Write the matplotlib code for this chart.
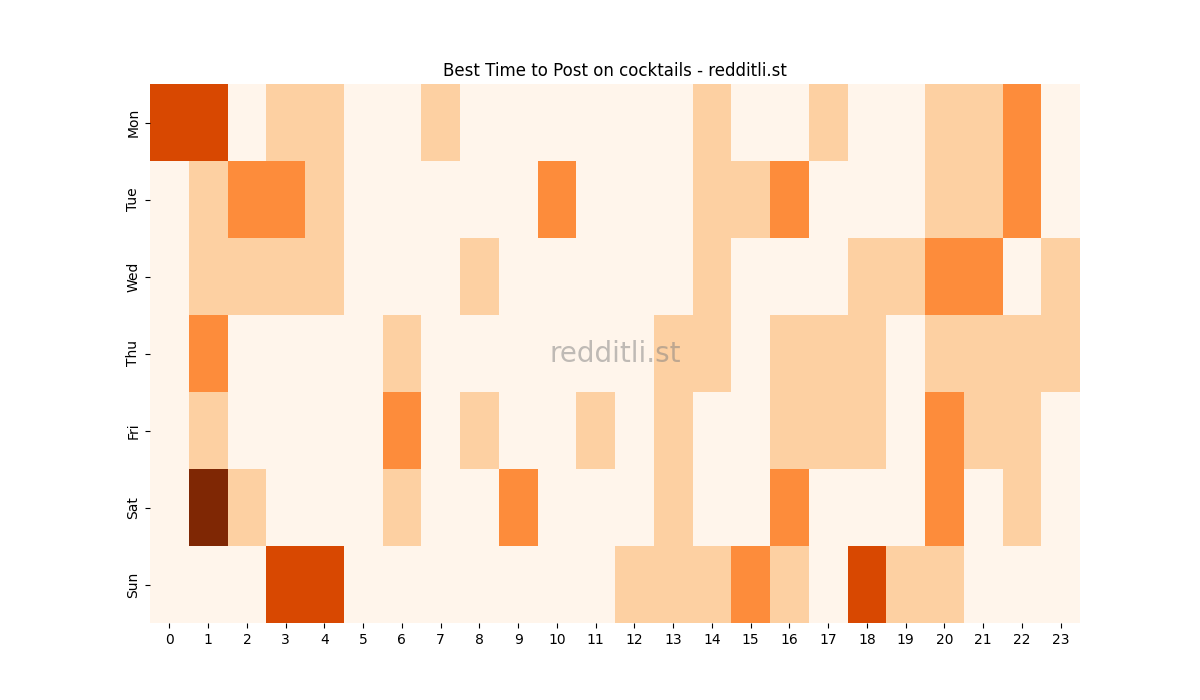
import matplotlib
matplotlib.use("Agg")
import matplotlib.pyplot as plt
import seaborn as sns
import numpy as np

days = ["Mon", "Tue", "Wed", "Thu", "Fri", "Sat", "Sun"]
hours = list(range(24))
mon = [3,3,0,1,1,0,0,1,0,0,0,0,0,0,1,0,0,1,0,0,1,1,2,0]
tue = [0,1,2,2,1,0,0,0,0,0,2,0,0,0,1,1,2,0,0,0,1,1,2,0]
wed = [0,1,1,1,1,0,0,0,1,0,0,0,0,0,1,0,0,0,1,1,2,2,0,1]
thu = [0,2,0,0,0,0,1,0,0,0,0,0,0,1,1,0,1,1,1,0,1,1,1,1]
fri = [0,1,0,0,0,0,2,0,1,0,0,1,0,1,0,0,1,1,1,0,2,1,1,0]
sat = [0,4,1,0,0,0,1,0,0,2,0,0,0,1,0,0,2,0,0,0,2,0,1,0]
sun = [0,0,0,3,3,0,0,0,0,0,0,0,1,1,1,2,1,0,3,1,1,0,0,0]
data = np.array([mon, tue, wed, thu, fri, sat, sun])

fig, ax = plt.subplots(figsize=(12, 7), dpi=100)
sns.heatmap(data, cmap="Oranges", vmin=0, vmax=4, cbar=False, ax=ax,
            xticklabels=hours, yticklabels=days)
ax.set_yticklabels(days, rotation=90, va="center")
ax.set_xticklabels(hours, rotation=0)
ax.set_title("Best Time to Post on cocktails - redditli.st")
ax.text(0.5, 0.5, "redditli.st", transform=ax.transAxes, ha="center", va="center",
        fontsize=20, color="gray", alpha=0.5)
fig.savefig("out.png", dpi=100)
